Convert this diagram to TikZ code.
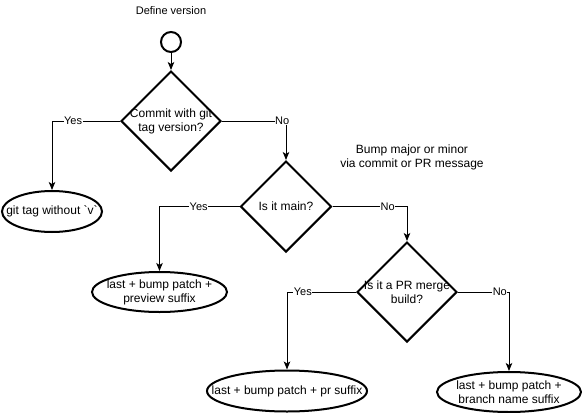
\documentclass[tikz,border=0pt]{standalone}
\usepackage{fontspec}
\setmainfont{Liberation Sans}
\usetikzlibrary{shapes.geometric,arrows.meta}
\begin{document}
\begin{tikzpicture}[x=1pt,y=-1pt,
  txt/.style={font=\fontsize{12}{14}\selectfont, align=center, inner sep=0pt},
  ttl/.style={font=\fontsize{11}{13}\selectfont, align=center, inner sep=0pt},
  lbl/.style={font=\fontsize{11}{13}\selectfont, fill=white, inner sep=0.6pt},
  dia/.style={draw, line width=2pt, diamond, aspect=1, inner sep=0pt, minimum size=#1},
  ov/.style 2 args={draw, line width=2pt, ellipse, inner sep=0pt, minimum width=#1, minimum height=#2},
  startc/.style={draw, line width=2pt, circle, inner sep=0pt, minimum size=20pt},
  conn/.style={draw, line width=1pt, -{Stealth[length=8pt,width=6.5pt,inset=2pt]}},
]
\useasboundingbox (0,0) rectangle (582,413);

\node[ttl] (title) at (171,11) {Define version};
\node[startc] (s) at (171,42) {};

\node[dia=100pt, label={[txt]center:{Commit with git\\tag version?}}] (d1) at (171,121) {};
\node[ov={100pt}{41pt}, label={[txt]center:{git tag without \textasciigrave v\textasciigrave}}] (o1) at (52,211.5) {};

\node[dia=91pt, label={[txt]center:{Is it main?}}] (d2) at (286,206.5) {};
\node[ov={135pt}{40pt}, label={[txt]center:{last + bump patch +\\preview suffix}}] (o2) at (159.5,292) {};

\node[txt] (bump) at (412,157) {Bump major or minor\\via commit or PR message};

\node[dia=100pt, label={[txt]center:{Is it a PR merge\\build?}}] (d3) at (407,292) {};
\node[ov={160pt}{41pt}, label={[txt]center:{last + bump patch + pr suffix}}] (o3) at (287,391) {};
\node[ov={144pt}{40pt}, label={[txt]center:{last + bump patch +\\branch name suffix}}] (o4) at (509,392) {};

\draw[conn] (s) -- (d1);
\draw[conn] (d1.west) -- node[lbl,pos=0.69]{Yes} (d1.west -| o1.north) -- (o1.north);
\draw[conn] (d1.east) -- node[lbl,pos=0.94]{No} (d1.east -| d2.north) -- (d2.north);
\draw[conn] (d2.west) -- node[lbl,pos=0.51]{Yes} (d2.west -| o2.north) -- (o2.north);
\draw[conn] (d2.east) -- node[lbl,pos=0.74]{No} (d2.east -| d3.north) -- (d3.north);
\draw[conn] (d3.west) -- node[lbl,pos=0.77]{Yes} (d3.west -| o3.north) -- (o3.north);
\draw[conn] (d3.east) -- node[lbl,pos=0.82]{No} (d3.east -| o4.north) -- (o4.north);
\end{tikzpicture}
\end{document}
